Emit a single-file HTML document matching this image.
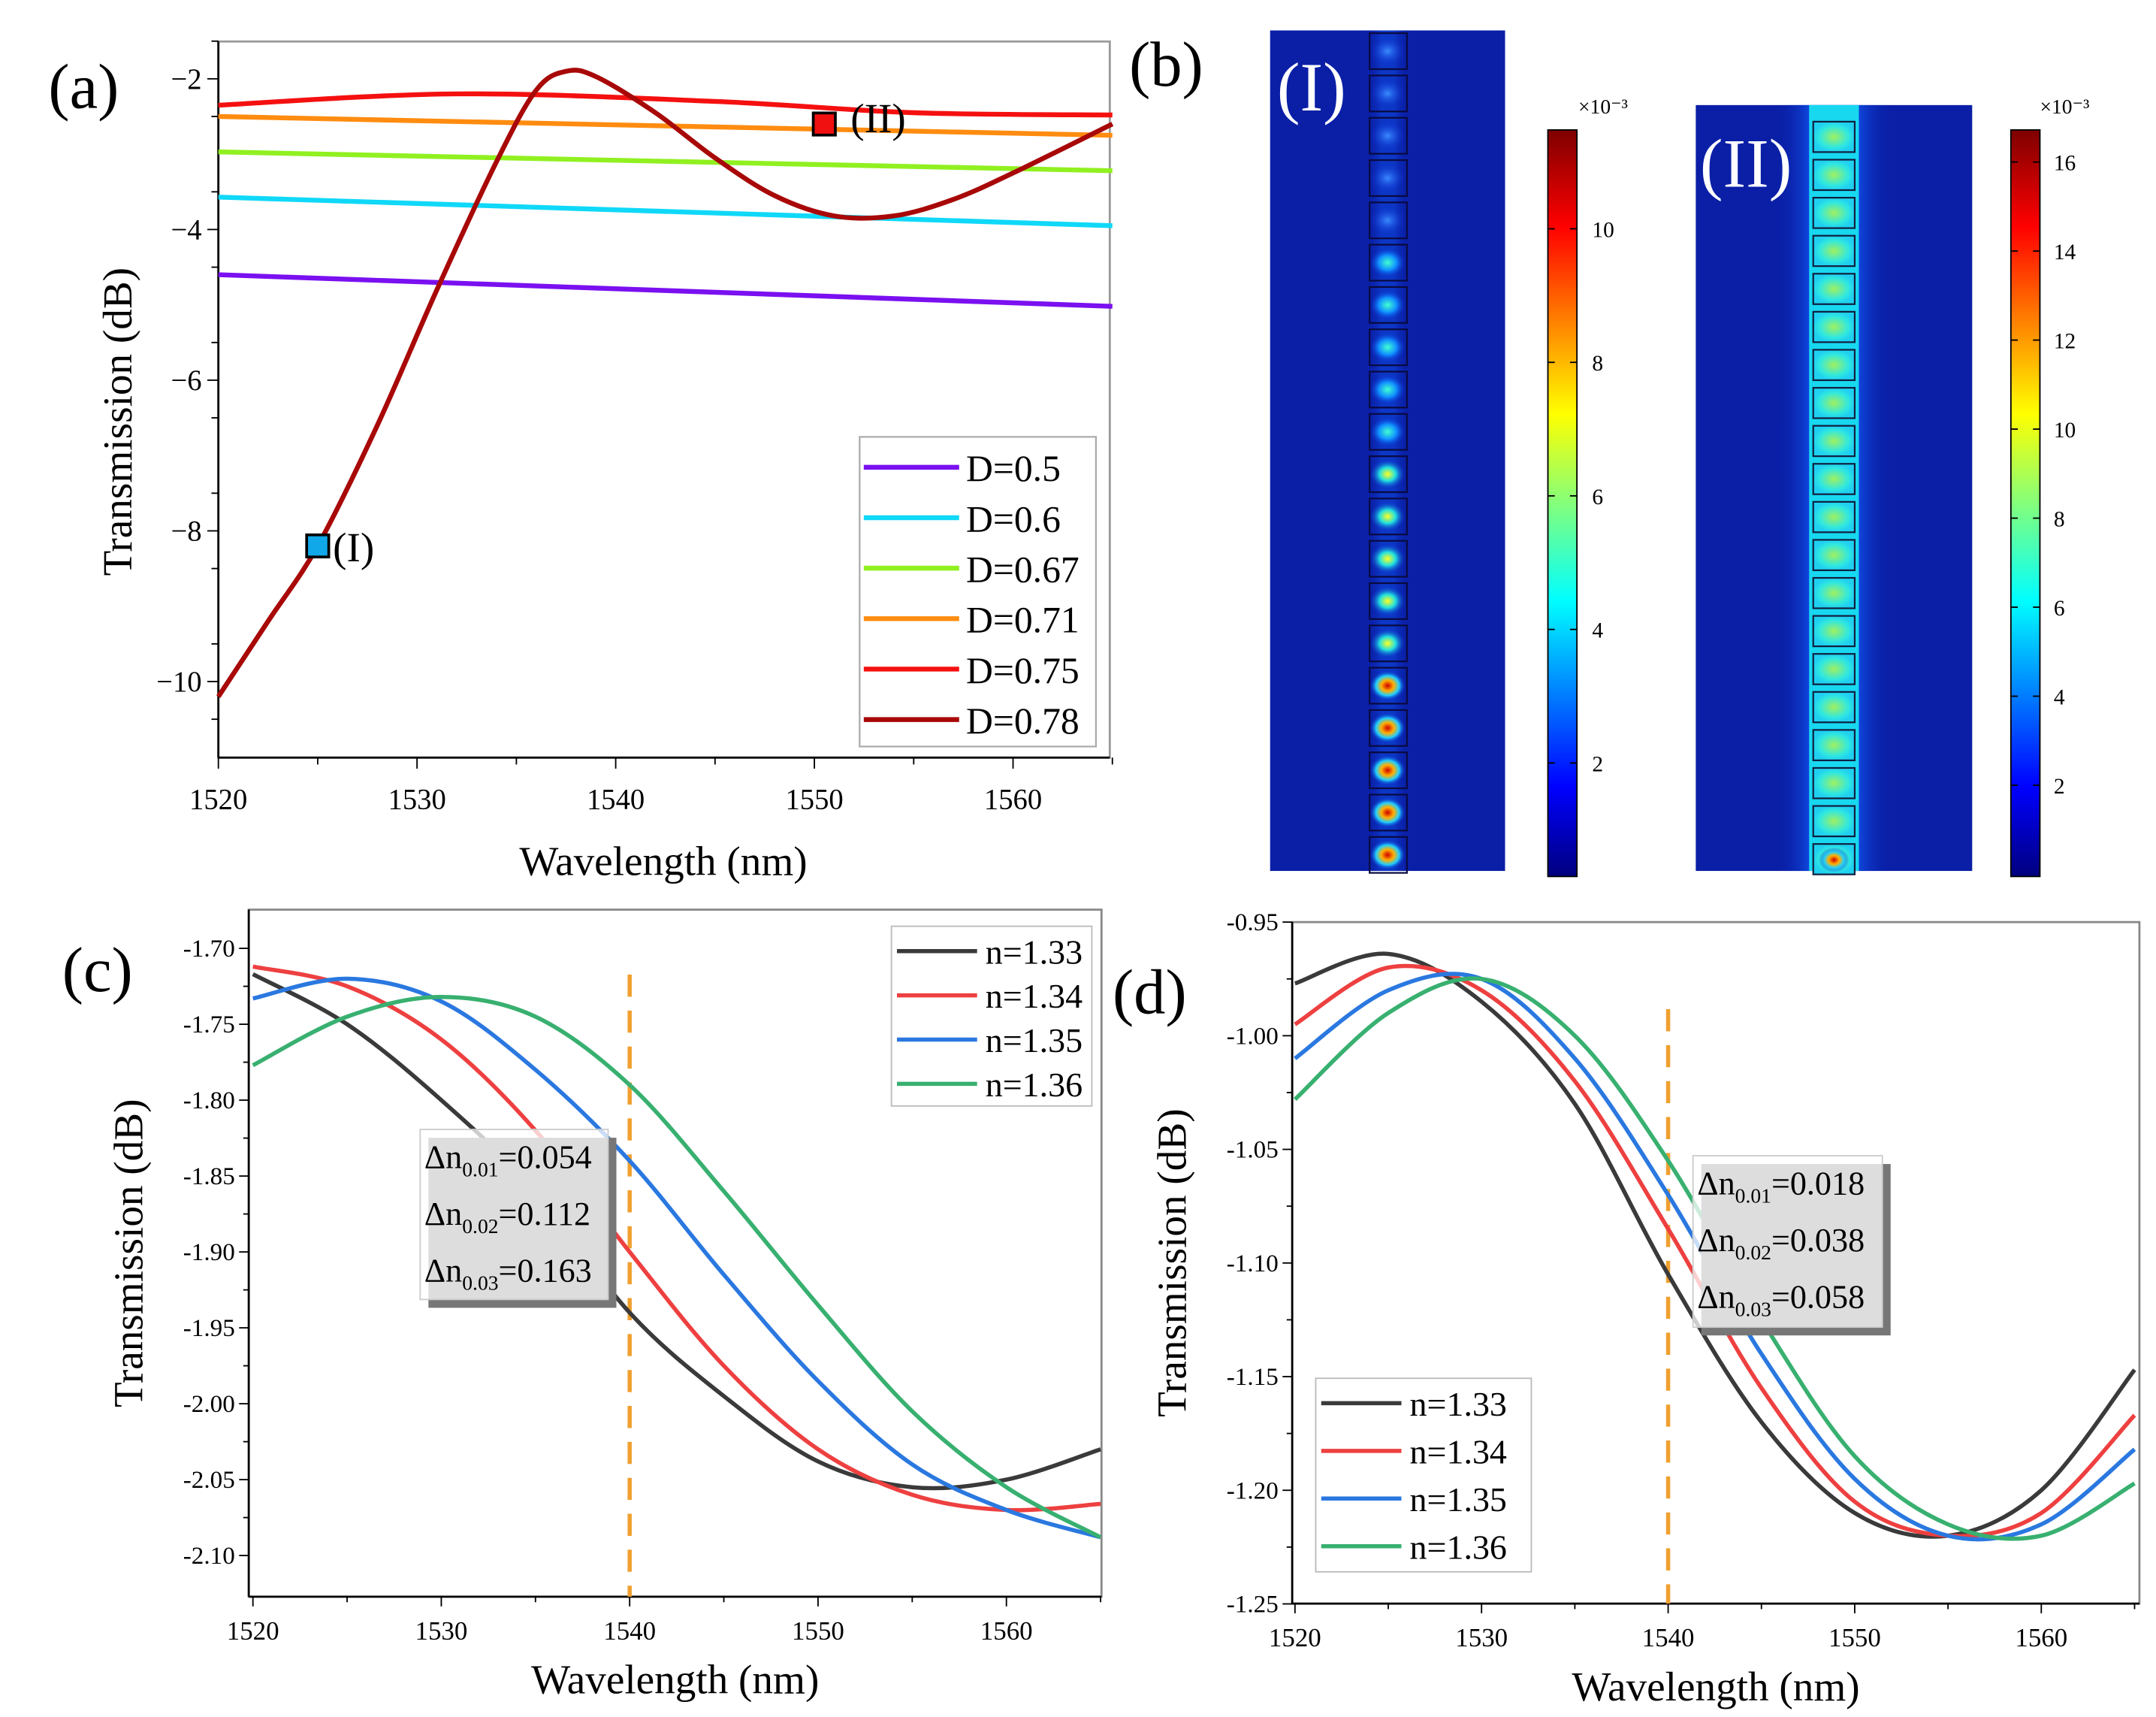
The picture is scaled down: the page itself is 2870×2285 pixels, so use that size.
<!DOCTYPE html>
<html><head><meta charset="utf-8"><style>
html,body{margin:0;padding:0;background:#fff}
svg{display:block}
text{font-family:"Liberation Serif",serif}
</style></head><body>
<svg id="fig" width="2870" height="2285" viewBox="0 0 1560 1242" xmlns="http://www.w3.org/2000/svg">
<defs>
<linearGradient id="jet" x1="0" y1="1" x2="0" y2="0">
<stop offset="0" stop-color="#00007f"/><stop offset="0.12" stop-color="#0000ff"/><stop offset="0.37" stop-color="#00ffff"/><stop offset="0.62" stop-color="#ffff00"/><stop offset="0.87" stop-color="#ff0000"/><stop offset="1" stop-color="#7f0000"/>
</linearGradient>
<radialGradient id="spotB"><stop offset="0" stop-color="#3a8cff"/><stop offset="1" stop-color="#0a2ad0" stop-opacity="0"/></radialGradient>
<radialGradient id="spotC"><stop offset="0" stop-color="#40ffd0"/><stop offset="0.5" stop-color="#1090ff"/><stop offset="1" stop-color="#0a2ad0" stop-opacity="0"/></radialGradient>
<radialGradient id="spotY"><stop offset="0" stop-color="#ffff20"/><stop offset="0.45" stop-color="#20e0e0"/><stop offset="1" stop-color="#0a2ad0" stop-opacity="0"/></radialGradient>
<radialGradient id="spotR"><stop offset="0" stop-color="#d00000"/><stop offset="0.35" stop-color="#ffb000"/><stop offset="0.65" stop-color="#20d0ff"/><stop offset="1" stop-color="#0a2ad0" stop-opacity="0"/></radialGradient>
<linearGradient id="glow" x1="0" y1="0" x2="1" y2="0">
<stop offset="0" stop-color="#0a1fa8" stop-opacity="0"/><stop offset="0.35" stop-color="#1060ff"/><stop offset="0.65" stop-color="#1060ff"/><stop offset="1" stop-color="#0a1fa8" stop-opacity="0"/>
</linearGradient>
<radialGradient id="cellII"><stop offset="0" stop-color="#a0f060"/><stop offset="0.7" stop-color="#30e8e0"/><stop offset="1" stop-color="#20d0f0"/></radialGradient>
</defs>
<g id="root"></g>
</svg>
<script>
const NS="http://www.w3.org/2000/svg";
const root=document.getElementById('root');
function el(tag,attrs,parent,txt){const e=document.createElementNS(NS,tag);for(const k in attrs)e.setAttribute(k,attrs[k]);if(txt!==undefined)e.textContent=txt;(parent||root).appendChild(e);return e;}
function smooth(pts){let d='M'+pts[0][0]+','+pts[0][1];for(let i=0;i<pts.length-1;i++){const p0=pts[i-1]||pts[i],p1=pts[i],p2=pts[i+1],p3=pts[i+2]||p2;const c1x=p1[0]+(p2[0]-p0[0])/6,c1y=p1[1]+(p2[1]-p0[1])/6,c2x=p2[0]-(p3[0]-p1[0])/6,c2y=p2[1]-(p3[1]-p1[1])/6;d+=` C${c1x},${c1y} ${c2x},${c2y} ${p2[0]},${p2[1]}`;}return d;}

// ---------- Panel (a) data ----------
const aXTicks=[1520,1530,1540,1550,1560];
const aYTicks=[-2,-4,-6,-8,-10];
const aLabels=['D=0.5','D=0.6','D=0.67','D=0.71','D=0.75','D=0.78'];
const aColors=['#7a10f0','#10d8f8','#90f020','#ff8c10','#f51010','#a80808'];
const aWl=[1520,1565];
const aD05=[-4.6,-5.02];
const aD06=[-3.57,-3.95];
const aD067=[-2.97,-3.22];
const aD071=[-2.5,-2.75];
const aD075Wl=[1520,1532,1545,1555,1565];
const aD075=[-2.35,-2.2,-2.3,-2.45,-2.48];
const aD078Wl=[1520,1522.5,1525,1528,1531,1534,1536,1537.5,1539,1542,1545,1548,1551,1554,1557,1560,1565];
const aD078=[-10.2,-9.2,-8.2,-6.6,-4.8,-3.1,-2.15,-1.9,-1.97,-2.45,-3.05,-3.55,-3.82,-3.82,-3.6,-3.25,-2.6];

// ---------- Panel (c) data ----------
const cWl=[1520,1525,1530,1535,1540,1545,1550,1555,1560,1565];
const cLabels=['n=1.33','n=1.34','n=1.35','n=1.36'];
const cN133=[-1.717,-1.75,-1.80,-1.86,-1.94,-1.995,-2.038,-2.055,-2.05,-2.03];
const cN134=[-1.712,-1.725,-1.76,-1.82,-1.90,-1.975,-2.03,-2.06,-2.07,-2.066];
const cN135=[-1.733,-1.72,-1.735,-1.78,-1.84,-1.915,-1.985,-2.04,-2.07,-2.088];
const cN136=[-1.777,-1.745,-1.732,-1.745,-1.79,-1.86,-1.935,-2.005,-2.055,-2.088];
const cYTicks=[-1.70,-1.75,-1.80,-1.85,-1.90,-1.95,-2.00,-2.05,-2.10];
const cXTicks=[1520,1530,1540,1550,1560];

// ---------- Panel (d) data ----------
const dWl=[1520,1525,1530,1535,1540,1545,1550,1555,1560,1565];
const dN133=[-0.977,-0.964,-0.985,-1.03,-1.105,-1.17,-1.21,-1.22,-1.20,-1.147];
const dN134=[-0.995,-0.97,-0.98,-1.02,-1.085,-1.155,-1.205,-1.22,-1.21,-1.167];
const dN135=[-1.01,-0.98,-0.975,-1.01,-1.07,-1.14,-1.195,-1.22,-1.215,-1.182];
const dN136=[-1.028,-0.99,-0.975,-1.0,-1.055,-1.125,-1.185,-1.215,-1.22,-1.197];
const dYTicks=[-0.95,-1.00,-1.05,-1.10,-1.15,-1.20,-1.25];
const dXTicks=[1520,1530,1540,1550,1560];
const nColors=['#3a3a3a','#ee4040','#2a78e0','#38b070'];

// colorbar ticks
const cb1Ticks=[2,4,6,8,10];
const cb2Ticks=[2,4,6,8,10,12,14,16];

// ===== Panel (a) =====
(function(){
const g=el('g',{});  
const X=w=>158+(w-1520)*14.375, Y=v=>57+(-2-v)*54.5;
let t=el('text',{x:35,y:78,'font-size':46},g,'(a)');  
let fr=el('rect',{x:158,y:30,width:645,height:518,fill:'none',stroke:'#999','stroke-width':1.5},g);  
el('line',{x1:158,y1:30,x2:158,y2:548,stroke:'#000','stroke-width':1.5},g);
el('line',{x1:158,y1:548,x2:803,y2:548,stroke:'#000','stroke-width':1.5},g);
for(let w=1520;w<=1565;w+=5){el('line',{x1:X(w),y1:548,x2:X(w),y2:w%10?553:556,stroke:'#000'},g);}
aXTicks.forEach(w=>{const e=el('text',{x:X(w),y:585,'font-size':21,'text-anchor':'middle'},g,w);});
for(let v=-1.5;v>=-11;v-=1){el('line',{x1:153,y1:Y(v),x2:158,y2:Y(v),stroke:'#000'},g);}
aYTicks.forEach(v=>{el('line',{x1:150,y1:Y(v),x2:158,y2:Y(v),stroke:'#000'},g);const e=el('text',{x:146,y:Y(v)+7,'font-size':21,'text-anchor':'end'},g,'\u2212'+(-v));});
t=el('text',{x:480,y:633,'font-size':30,'text-anchor':'middle'},g,'Wavelength (nm)');  
t=el('text',{x:95,y:305,'font-size':30,'text-anchor':'middle',transform:'rotate(-90 95 305)'},g,'Transmission (dB)');  
const series=[[aWl,aD05],[aWl,aD06],[aWl,aD067],[aWl,aD071],[aD075Wl,aD075],[aD078Wl,aD078]];
series.forEach((s,i)=>{const pts=s[0].map((w,j)=>[X(w),Y(s[1][j])]);const p=el('path',{d:smooth(pts),fill:'none',stroke:aColors[i],'stroke-width':3.5},g);});
let m=el('rect',{x:X(1525)-8,y:Y(-8.2)-8,width:16,height:16,fill:'#10a8e8',stroke:'#000','stroke-width':2},g);  
el('text',{x:X(1525)+11,y:Y(-8.2)+11,'font-size':30},g,'(I)');
m=el('rect',{x:X(1550.5)-8,y:Y(-2.6)-8,width:16,height:16,fill:'#f01010',stroke:'#000','stroke-width':2},g);  
el('text',{x:X(1550.5)+19,y:Y(-2.6)+6,'font-size':30},g,'(II)');
const lg=el('g',{},g);  
el('rect',{x:622,y:316,width:171,height:224,fill:'#fff',stroke:'#aaa','stroke-width':1.2},lg);
aLabels.forEach((l,i)=>{const y=338+i*36.5;el('line',{x1:625,y1:y,x2:694,y2:y,stroke:aColors[i],'stroke-width':3.5},lg);const e=el('text',{x:699,y:y+10,'font-size':27},lg,l);});
})();

// ===== Panel (b) =====
(function(){
const g=el('g',{});  
let t=el('text',{x:817,y:62,'font-size':46},g,'(b)');  
// field I
const f1=el('g',{},g);  
el('rect',{x:919,y:22,width:170,height:608,fill:'#0a1fa6'},f1);
el('rect',{x:988,y:22,width:32,height:608,fill:'url(#glow)',opacity:0.35},f1);
for(let i=0;i<20;i++){const y=37+i*30.6;const fill=i<5?'url(#spotB)':i<10?'url(#spotC)':i<15?'url(#spotY)':'url(#spotR)';
el('rect',{x:991,y:y-13,width:27,height:26,fill:'none',stroke:'#0a0a40','stroke-width':1.2},f1);
el('ellipse',{cx:1004,cy:y,rx:13,ry:11,fill:fill},f1);}
el('text',{x:924,y:80,'font-size':50,fill:'#fff'},f1,'(I)');
// colorbar I
const cb=el('g',{},g);  
el('rect',{x:1120,y:94,width:21,height:540,fill:'url(#jet)',stroke:'#000','stroke-width':1},cb);
const cy1=v=>634-(v-0.3)*48.3;
cb1Ticks.forEach(v=>{el('line',{x1:1120,y1:cy1(v),x2:1125,y2:cy1(v),stroke:'#000'},cb);el('line',{x1:1136,y1:cy1(v),x2:1141,y2:cy1(v),stroke:'#000'},cb);const e=el('text',{x:1152,y:cy1(v)+6,'font-size':16,'font-family':'Liberation Sans, sans-serif'},cb,v);});
el('text',{x:1142,y:82,'font-size':15,'font-family':'Liberation Sans, sans-serif'},cb,'\u00d710\u207b\u00b3');
// field II
const f2=el('g',{},g);  
el('rect',{x:1227,y:76,width:200,height:554,fill:'#0a1fa6'},f2);
el('rect',{x:1285,y:76,width:84,height:554,fill:'url(#glow)',opacity:0.9},f2);
el('rect',{x:1309,y:76,width:36,height:554,fill:'#18d8f0'},f2);
for(let i=0;i<20;i++){const y=88+i*27.5;el('rect',{x:1312,y:y,width:30,height:22,fill:'url(#cellII)',stroke:'#102040','stroke-width':1.2},f2);}
el('ellipse',{cx:1327,cy:622,rx:11,ry:9,fill:'url(#spotR)'},f2);
el('text',{x:1230,y:135,'font-size':50,fill:'#fff'},f2,'(II)');
const cb2=el('g',{},g);  
el('rect',{x:1455,y:94,width:21,height:540,fill:'url(#jet)',stroke:'#000','stroke-width':1},cb2);
const cy2=v=>568-(v-2)*32.2;
cb2Ticks.forEach(v=>{el('line',{x1:1455,y1:cy2(v),x2:1460,y2:cy2(v),stroke:'#000'},cb2);el('line',{x1:1471,y1:cy2(v),x2:1476,y2:cy2(v),stroke:'#000'},cb2);const e=el('text',{x:1486,y:cy2(v)+6,'font-size':16,'font-family':'Liberation Sans, sans-serif'},cb2,v);});
el('text',{x:1476,y:82,'font-size':15,'font-family':'Liberation Sans, sans-serif'},cb2,'\u00d710\u207b\u00b3');
})();

// ===== shared line-panel builder =====
function linePanel(o){
const g=el('g',{});  
const X=w=>o.x0+(w-1520)*o.sx, Y=v=>o.y0+(o.v0-v)*o.sy;
let t=el('text',{x:o.lx,y:o.ly,'font-size':46},g,o.letter);  
el('rect',{x:o.L,y:o.T,width:o.R-o.L,height:o.B-o.T,fill:'none',stroke:'#888','stroke-width':1.5},g);
el('line',{x1:o.L,y1:o.T,x2:o.L,y2:o.B,stroke:'#000','stroke-width':1.5},g);
el('line',{x1:o.L,y1:o.B,x2:o.R,y2:o.B,stroke:'#000','stroke-width':1.5},g);
for(let w=1520;w<=1565;w+=5){el('line',{x1:X(w),y1:o.B,x2:X(w),y2:w%10?o.B+4:o.B+7,stroke:'#000'},g);}
o.xt.forEach(w=>{const e=el('text',{x:X(w),y:o.B+31,'font-size':19,'text-anchor':'middle'},g,w);});
o.yt.forEach((v,i)=>{el('line',{x1:o.L-7,y1:Y(v),x2:o.L,y2:Y(v),stroke:'#000'},g);if(i<o.yt.length-1)el('line',{x1:o.L-4,y1:(Y(v)+Y(o.yt[i+1]))/2,x2:o.L,y2:(Y(v)+Y(o.yt[i+1]))/2,stroke:'#000'},g);
const e=el('text',{x:o.L-10,y:Y(v)+6,'font-size':18,'text-anchor':'end'},g,'-'+(-v).toFixed(2));});
t=el('text',{x:(o.L+o.R)/2,y:o.B+70,'font-size':30,'text-anchor':'middle'},g,'Wavelength (nm)');  
t=el('text',{x:o.ytx,y:(o.T+o.B)/2,'font-size':30,'text-anchor':'middle',transform:`rotate(-90 ${o.ytx} ${(o.T+o.B)/2})`},g,'Transmission (dB)');  
const dl=el('line',{x1:X(1540),y1:o.dashT,x2:X(1540),y2:o.B,stroke:'#f0a030','stroke-width':3,'stroke-dasharray':'16,10'},g);  
o.series.forEach((s,i)=>{const pts=o.wl.map((w,j)=>[X(w),Y(s[j])]);const p=el('path',{d:smooth(pts),fill:'none',stroke:nColors[i],'stroke-width':3},g);});
// annotation
const an=el('g',{},g);  
const a=o.ann;
el('rect',{x:a.x+6,y:a.y+6,width:a.w,height:a.h,fill:'#777'},an);
el('rect',{x:a.x,y:a.y,width:a.w,height:a.h,fill:'#fff','fill-opacity':0.75,stroke:'#ccc'},an);
a.vals.forEach((v,i)=>{const e=el('text',{x:a.x+3,y:a.y+28+i*41,'font-size':24},an);
e.innerHTML=`Δn<tspan font-size="15" dy="6">${['0.01','0.02','0.03'][i]}</tspan><tspan dy="-6">=${v}</tspan>`;});
// legend
const lg=el('g',{},g);  
const l=o.leg;
el('rect',{x:l.x,y:l.y,width:l.w,height:l.h,fill:'#fff',stroke:'#bbb'},lg);
cLabels.forEach((s,i)=>{const y=l.y+18+i*l.step;el('line',{x1:l.x+4,y1:y,x2:l.x+62,y2:y,stroke:nColors[i],'stroke-width':3},lg);const e=el('text',{x:l.x+68,y:y+9,'font-size':25},lg,s);});
}
linePanel({name:'panel-c',letter:'(c)',lx:45,ly:717,L:180,R:797,T:658,B:1155,x0:183,sx:13.63,y0:686,v0:-1.70,sy:1098,xt:cXTicks,yt:cYTicks,ytx:103,dashT:705,wl:cWl,series:[cN133,cN134,cN135,cN136],
ann:{x:304,y:817,w:136,h:123,vals:['0.054','0.112','0.163']},leg:{x:645,y:670,w:145,h:130,step:32}});
linePanel({name:'panel-d',letter:'(d)',lx:805,ly:733,L:935,R:1548,T:667,B:1160,x0:937,sx:13.5,y0:667,v0:-0.95,sy:1644,xt:dXTicks,yt:dYTicks,ytx:858,dashT:730,wl:dWl,series:[dN133,dN134,dN135,dN136],
ann:{x:1225,y:836,w:137,h:124,vals:['0.018','0.038','0.058']},leg:{x:952,y:997,w:156,h:140,step:34.5}});
</script>
</body></html>
